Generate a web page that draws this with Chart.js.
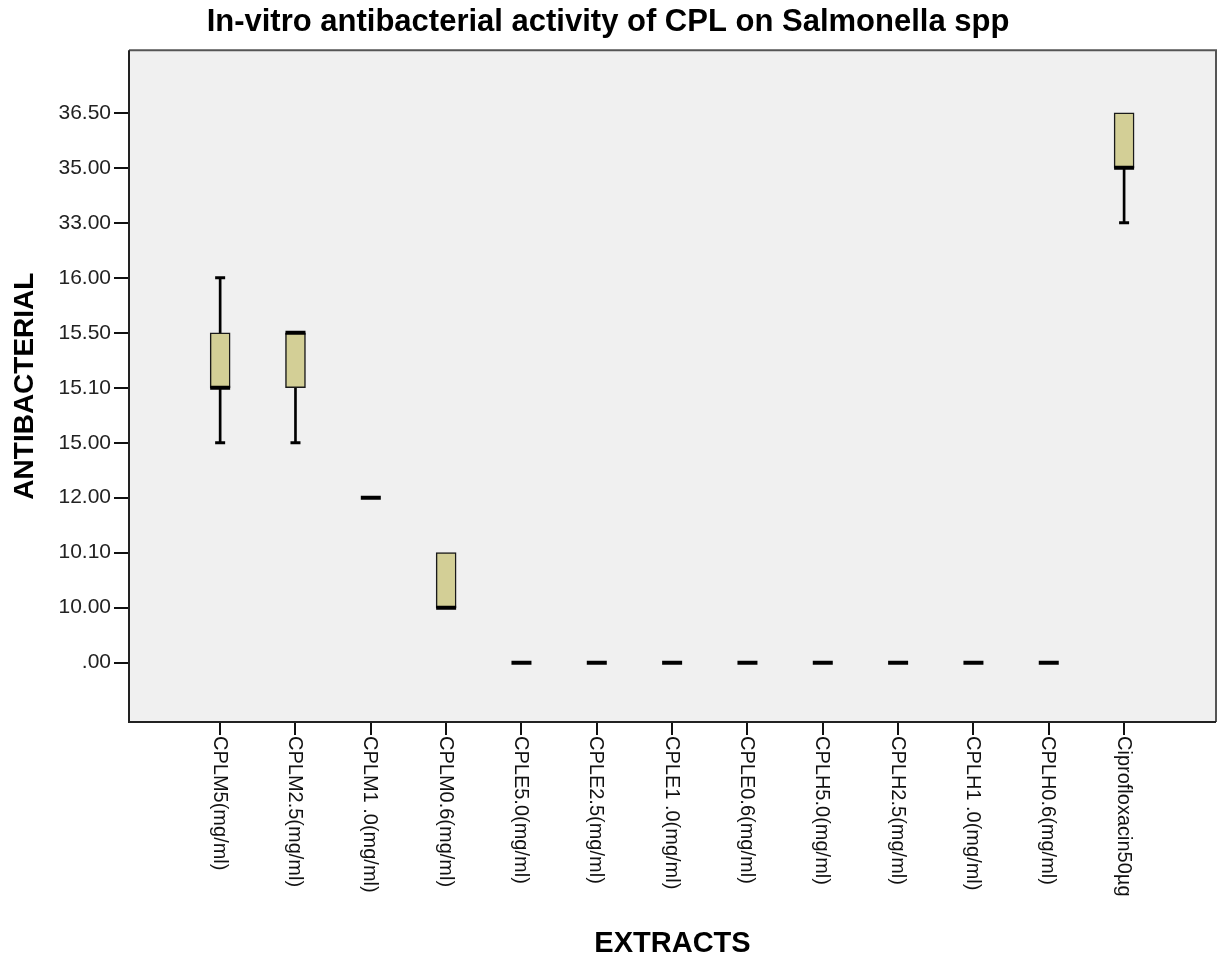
<!DOCTYPE html>
<html>
<head>
<meta charset="utf-8">
<script src="https://cdn.jsdelivr.net/npm/chart.js@4.4.1/dist/chart.umd.min.js"></script>
<style>
html,body{margin:0;padding:0;background:#fff;}
canvas{display:block;}
</style>
</head>
<body>
<canvas id="c" width="1219" height="963"></canvas>
<script>
// ---- Data ----
const categories = ['CPLM5(mg/ml)','CPLM2.5(mg/ml)','CPLM1 .0(mg/ml)','CPLM0.6(mg/ml)','CPLE5.0(mg/ml)','CPLE2.5(mg/ml)','CPLE1 .0(mg/ml)','CPLE0.6(mg/ml)','CPLH5.0(mg/ml)','CPLH2.5(mg/ml)','CPLH1 .0(mg/ml)','CPLH0.6(mg/ml)','Ciprofloxacin50µg'];
// The value axis is ordinal: each observed value is one equally spaced level
const yLevelValues = [0, 10, 10.1, 12, 15, 15.1, 15.5, 16, 33, 35, 36.5];
const yTickLabels = ['.00','10.00','10.10','12.00','15.00','15.10','15.50','16.00','33.00','35.00','36.50'];
const minValues    = [15.00, 15.00, 12.00, 10.00, 0, 0, 0, 0, 0, 0, 0, 0, 33.00];
const q1Values     = [15.10, 15.10, 12.00, 10.00, 0, 0, 0, 0, 0, 0, 0, 0, 35.00];
const medianValues = [15.10, 15.50, 12.00, 10.00, 0, 0, 0, 0, 0, 0, 0, 0, 35.00];
const q3Values     = [15.50, 15.50, 12.00, 10.10, 0, 0, 0, 0, 0, 0, 0, 0, 36.50];
const maxValues    = [16.00, 15.50, 12.00, 10.10, 0, 0, 0, 0, 0, 0, 0, 0, 36.50];

const FONT = "'Liberation Sans', Arial, Helvetica, sans-serif";
Chart.defaults.font.family = FONT;

const lvl = v => yLevelValues.indexOf(v);

const boxData = categories.map((_, i) => q3Values[i] > q1Values[i] ? {x: i, y: [lvl(q1Values[i]), lvl(q3Values[i])]} : null).filter(Boolean);
const lowStem = categories.map((_, i) => minValues[i] < q1Values[i] ? {x: i, y: [lvl(minValues[i]), lvl(q1Values[i])]} : null).filter(Boolean);
const highStem = categories.map((_, i) => maxValues[i] > q3Values[i] ? {x: i, y: [lvl(q3Values[i]), lvl(maxValues[i])]} : null).filter(Boolean);
const caps = [];
categories.forEach((_, i) => {
  if (minValues[i] < q1Values[i]) caps.push({x: i, y: lvl(minValues[i])});
  if (maxValues[i] > q3Values[i]) caps.push({x: i, y: lvl(maxValues[i])});
});
const medians = categories.map((_, i) => ({x: i, y: lvl(medianValues[i])}));

const bgPlugin = {
  id: 'bg',
  beforeDraw(chart) {
    const {ctx, chartArea: a} = chart;
    ctx.save();
    ctx.fillStyle = '#ffffff';
    ctx.fillRect(0, 0, chart.width, chart.height);
    ctx.fillStyle = '#F0F0F0';
    ctx.fillRect(a.left, a.top, a.right - a.left, a.bottom - a.top);
    ctx.restore();
  },
  afterDatasetsDraw(chart) {
    const {ctx, chartArea: a} = chart;
    ctx.save();
    ctx.lineWidth = 2;
    ctx.strokeStyle = '#555555';
    ctx.beginPath();
    ctx.moveTo(a.left, a.top); ctx.lineTo(a.right, a.top); ctx.lineTo(a.right, a.bottom);
    ctx.stroke();
    ctx.strokeStyle = '#222222';
    ctx.beginPath();
    ctx.moveTo(a.left, a.top); ctx.lineTo(a.left, a.bottom); ctx.lineTo(a.right, a.bottom);
    ctx.stroke();
    ctx.restore();
  },
  afterDraw(chart) {
    const {ctx, scales: {x}, chartArea} = chart;
    ctx.save();
    ctx.font = "20px " + FONT;
    ctx.fillStyle = '#111';
    ctx.textAlign = 'left';
    ctx.textBaseline = 'middle';
    categories.forEach((lab, i) => {
      const px = x.getPixelForValue(i);
      ctx.save();
      ctx.translate(px - 1, chartArea.bottom + 14);
      ctx.rotate(Math.PI / 2);
      ctx.fillText(lab, 0, 0);
      ctx.restore();
    });
    ctx.restore();
  }
};

new Chart(document.getElementById('c'), {
  type: 'bar',
  data: {
    datasets: [
      { label: 'lowStem', data: lowStem, backgroundColor: '#000', borderWidth: 0, barThickness: 2, grouped: false, order: 5 },
      { label: 'highStem', data: highStem, backgroundColor: '#000', borderWidth: 0, barThickness: 2, grouped: false, order: 5 },
      { label: 'box', data: boxData, backgroundColor: '#D3CF96', borderColor: '#1a1a1a', borderWidth: 1.5, borderSkipped: false, barThickness: 20, grouped: false, order: 4 },
      { label: 'caps', type: 'line', data: caps, showLine: false, pointStyle: 'line', pointRadius: 5, pointHoverRadius: 5, pointBorderWidth: 3, pointBorderColor: '#000', borderColor: '#000', order: 3 },
      { label: 'median', type: 'line', data: medians, showLine: false, pointStyle: 'line', pointRadius: 10, pointHoverRadius: 10, pointBorderWidth: 4, pointBorderColor: '#000', borderColor: '#000', order: 2 }
    ]
  },
  options: {
    responsive: false,
    animation: false,
    devicePixelRatio: 1,
    layout: { autoPadding: false, padding: { left: 0, right: 3, top: 0, bottom: 0 } },
    plugins: {
      legend: { display: false },
      tooltip: { enabled: false },
      title: {
        display: true,
        text: 'In-vitro antibacterial activity of CPL on Salmonella spp',
        color: '#000',
        font: { size: 31, weight: 'bold', family: FONT },
        padding: { top: 4, bottom: 9 }
      }
    },
    scales: {
      x: {
        type: 'linear',
        min: -1.21,
        max: 13.22,
        offset: false,
        border: { display: false },
        grid: { offset: false, drawOnChartArea: false, drawTicks: true, tickLength: 13, color: '#111', lineWidth: 2 },
        afterBuildTicks: s => { s.ticks = categories.map((_, i) => ({ value: i })); },
        afterFit: s => { s.height = 241; s.paddingLeft = 0; s.paddingRight = 0; },
        ticks: { autoSkip: false, maxRotation: 0, minRotation: 0, callback: () => '' },
        title: { display: true, text: 'EXTRACTS', color: '#000', font: { size: 29, weight: 'bold', family: FONT }, padding: { top: 0, bottom: 2 } }
      },
      y: {
        type: 'linear',
        min: -1.08,
        max: 11.14,
        border: { display: false },
        grid: { drawOnChartArea: false, drawTicks: true, tickLength: 15, color: '#111', lineWidth: 2 },
        afterBuildTicks: s => { s.ticks = yTickLabels.map((_, i) => ({ value: i })); },
        afterFit: s => { s.width = 129; s.paddingTop = 0; s.paddingBottom = 0; },
        ticks: { padding: 3, color: '#222', font: { size: 21, family: FONT }, callback: v => yTickLabels[v] },
        title: { display: true, text: 'ANTIBACTERIAL', color: '#000', font: { size: 28, weight: 'bold', family: FONT }, padding: { top: 8, bottom: 0 } }
      }
    }
  },
  plugins: [bgPlugin]
});
</script>
</body>
</html>
